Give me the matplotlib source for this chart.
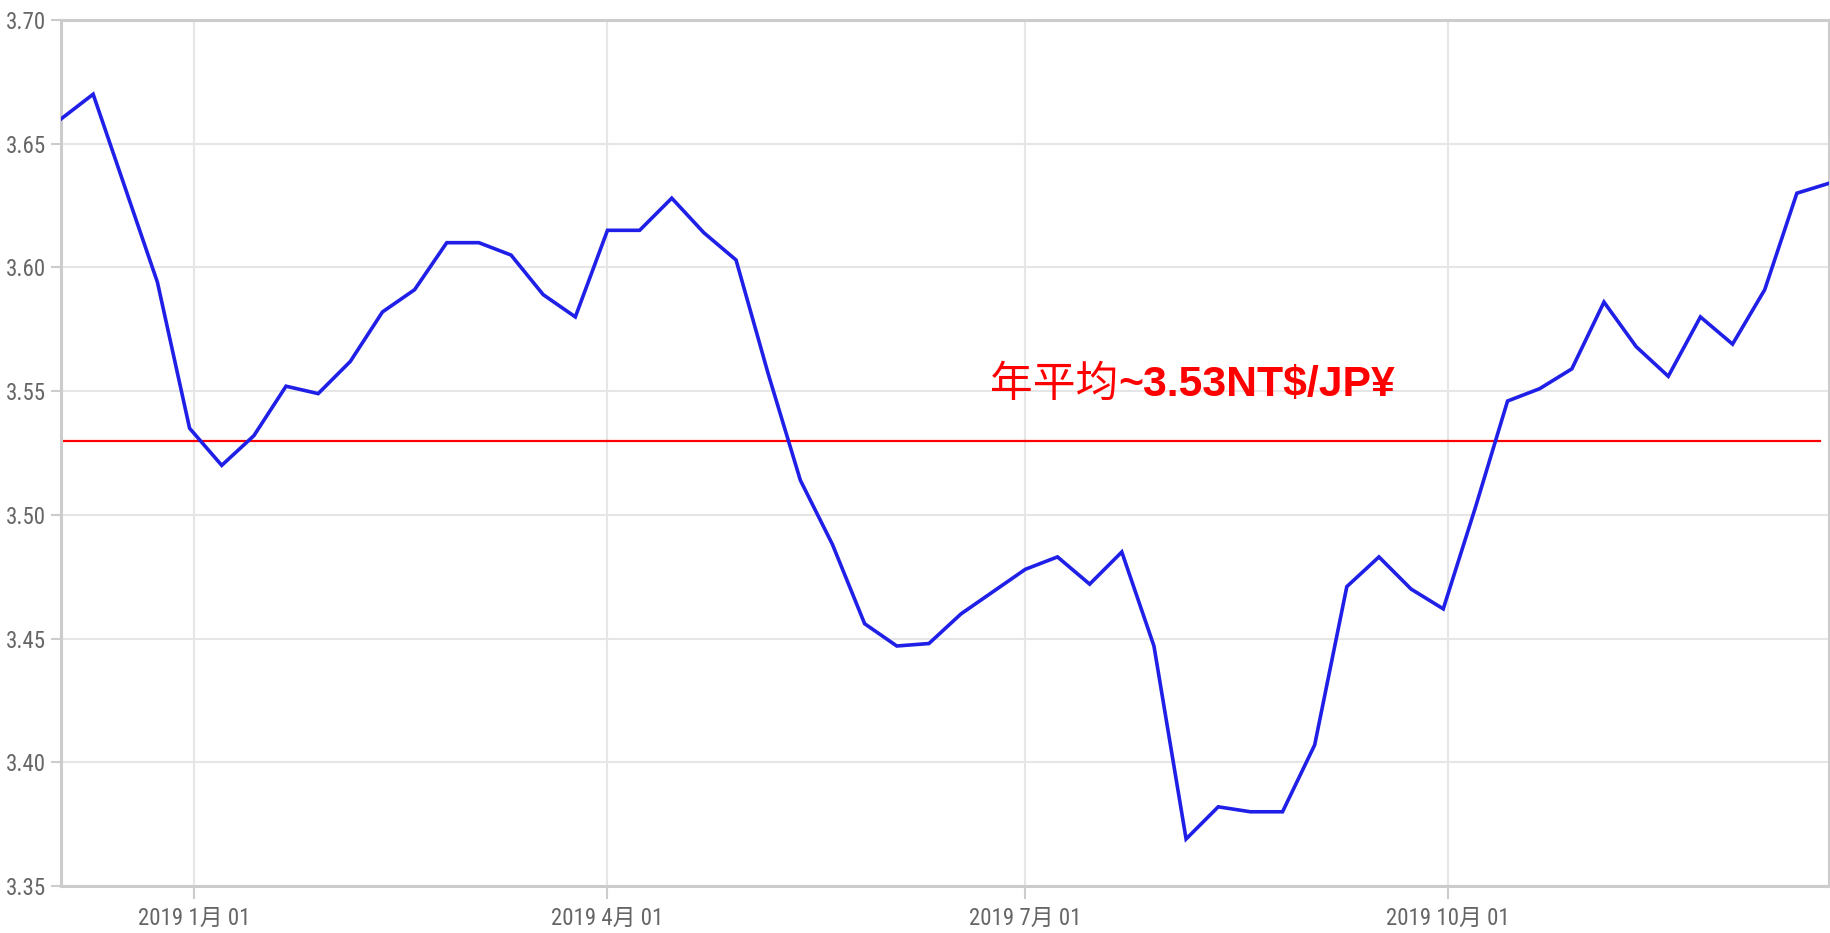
import matplotlib
matplotlib.use("Agg")
import matplotlib.pyplot as plt
import matplotlib.font_manager as fm
import numpy as np
import pandas as pd

# ---- data ----
start_date = "2018-12-03"
rates = [3.660, 3.670, 3.632, 3.594, 3.535, 3.520, 3.532, 3.552, 3.549, 3.562,
         3.582, 3.591, 3.610, 3.610, 3.605, 3.589, 3.580, 3.615, 3.615, 3.628,
         3.614, 3.603, 3.557, 3.514, 3.488, 3.456, 3.447, 3.448, 3.460, 3.469,
         3.478, 3.483, 3.472, 3.485, 3.447, 3.369, 3.382, 3.380, 3.380, 3.407,
         3.471, 3.483, 3.470, 3.462, 3.503, 3.546, 3.551, 3.559, 3.586, 3.568,
         3.556, 3.580, 3.569, 3.591, 3.630, 3.634]
dates = pd.date_range(start_date, periods=len(rates), freq="7D")
avg_rate = 3.53
avg_label_cn = "年平均"
avg_label_en = "~3.53NT$/JP¥"
xtick_dates = ["2019-01-01", "2019-04-01", "2019-07-01", "2019-10-01"]
xtick_labels = ["2019 1月 01", "2019 4月 01", "2019 7月 01", "2019 10月 01"]
yticks = [3.35, 3.40, 3.45, 3.50, 3.55, 3.60, 3.65, 3.70]
ytick_labels = ["3.35", "3.40", "3.45", "3.50", "3.55", "3.60", "3.65", "3.70"]

names = {f.name for f in fm.fontManager.ttflist}
narrow = [n for n in ["Liberation Sans Narrow", "Roboto Condensed", "DejaVu Sans Condensed"] if n in names]
tick_font = narrow[:1] + ["Roboto", "Noto Sans CJK SC"]

fig = plt.figure(figsize=(18.31, 9.33), dpi=100)
ax = fig.add_axes([61/1831, 1-886/933, (1829-61)/1831, (886-20)/933])

ax.plot(dates, rates, color="#1f1fe8", lw=2.6, solid_joinstyle="miter", zorder=3)
ax.axhline(avg_rate, xmin=0.001, xmax=0.995, color="#ff0000", lw=1.6, zorder=2)

ax.set_xlim(dates[0], dates[-1])
ax.set_ylim(3.35, 3.70)

ax.set_yticks(yticks)
ax.set_yticklabels(ytick_labels, family=tick_font, fontsize=16.5, color="#666666")
xt = pd.to_datetime(xtick_dates)
ax.set_xticks(xt)
ax.set_xticklabels(xtick_labels, family=tick_font, fontsize=16.5, color="#666666")

ax.grid(True, color="#e6e6e6", lw=1.5, zorder=0)
ax.set_axisbelow(True)
for s in ax.spines.values():
    s.set_color("#cccccc")
    s.set_linewidth(2.2)
ax.tick_params(axis="both", color="#cccccc", width=1.5, length=7, pad=4)
ax.tick_params(axis="x", length=9, pad=6)

# annotation
ty = 1 - 385/933
t1 = fig.text(990/1831, ty, avg_label_cn, color="#ff0000", fontsize=30.8,
              family=["Noto Sans CJK SC"], va="center", ha="left")
fig.canvas.draw()
bb = t1.get_window_extent()
x_end = bb.x1 / fig.bbox.width
fig.text(x_end, ty, avg_label_en, color="#ff0000", fontsize=30.8, fontweight="bold",
         family=["Liberation Sans", "DejaVu Sans"], va="center", ha="left")

fig.savefig("out.png", dpi=100)
